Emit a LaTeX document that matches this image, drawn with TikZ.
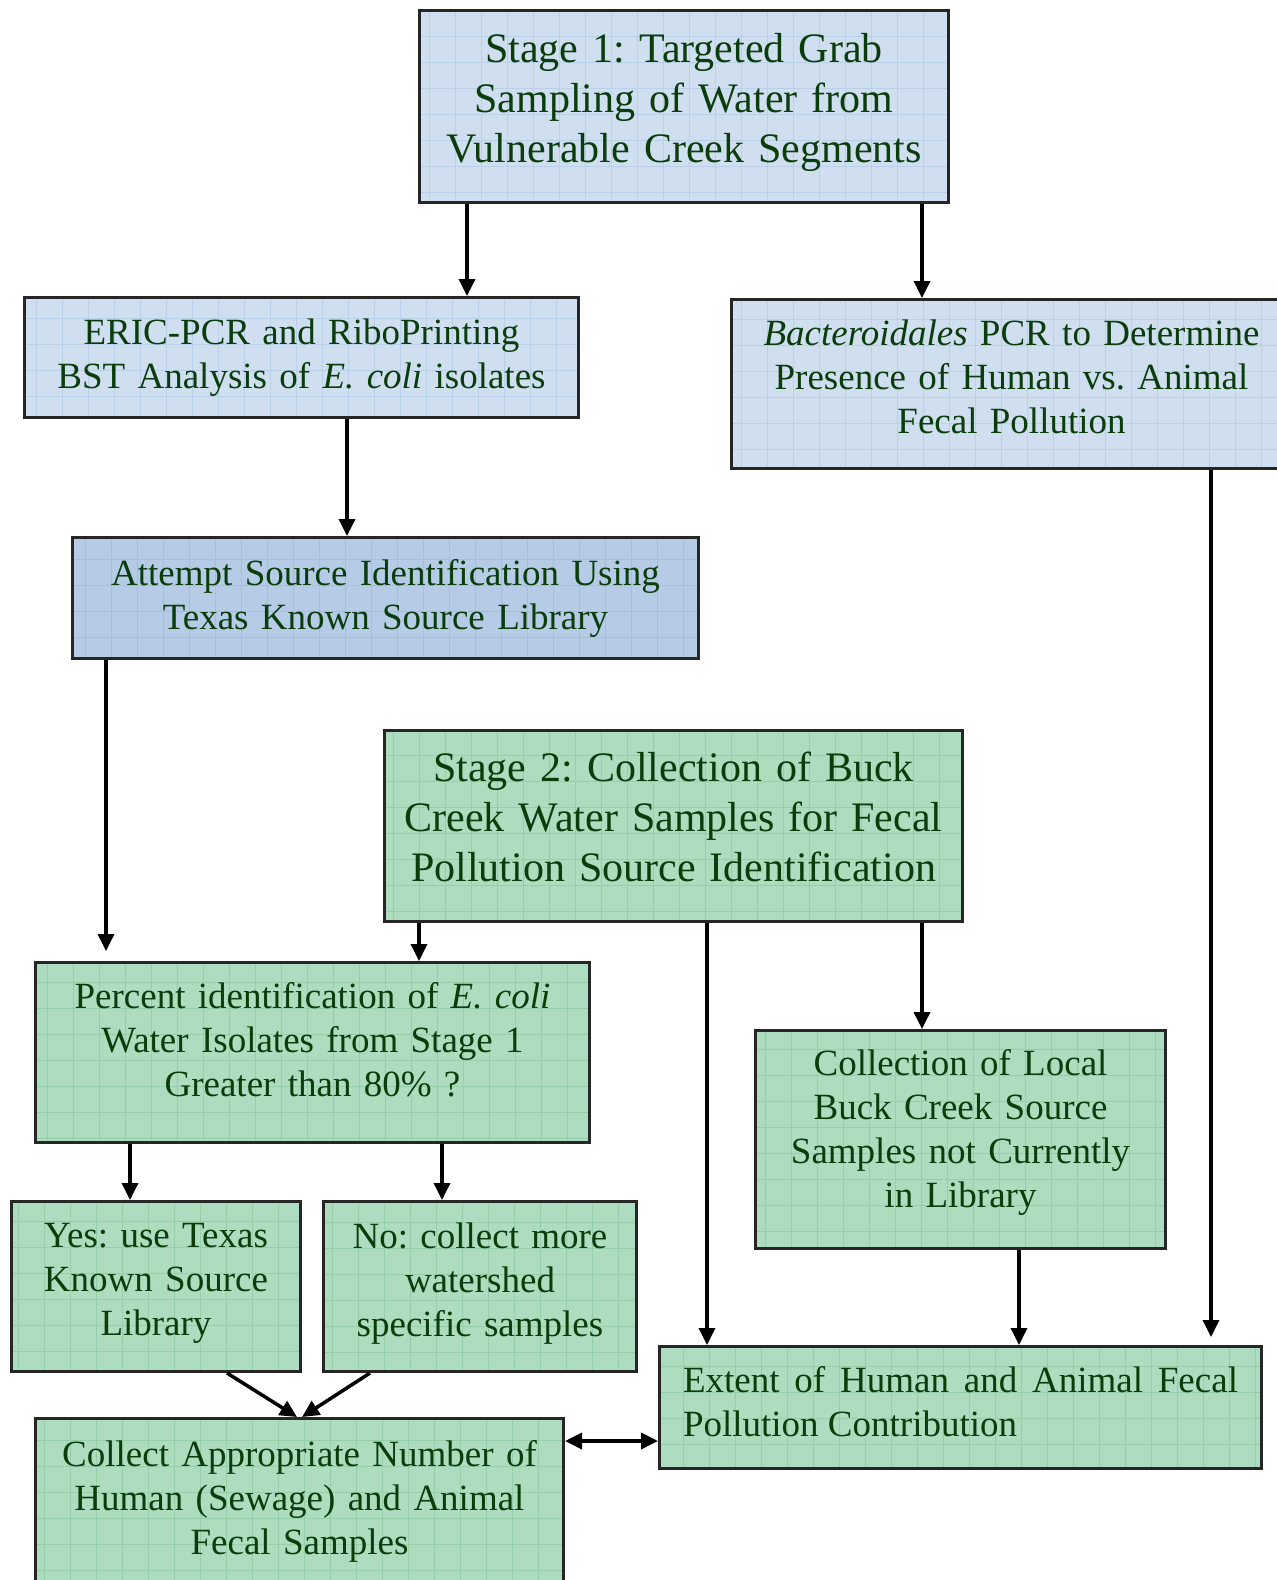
\documentclass[tikz,border=0pt]{standalone}
\usepackage{fontspec}
\setmainfont{Liberation Serif}
\usetikzlibrary{arrows.meta}

\definecolor{txtgreen}{RGB}{10,60,12}
\definecolor{paleblue}{RGB}{208,223,240}
\definecolor{gridblue}{RGB}{186,208,232}
\definecolor{midblue}{RGB}{182,204,230}
\definecolor{gridmidblue}{RGB}{162,190,224}
\definecolor{palegreen}{RGB}{174,220,190}
\definecolor{gridgreen}{RGB}{150,206,170}

% unsichtbare Tiefe, hebt den Text im Kasten an
\newcommand{\dn}[1]{\rule[-#1]{0pt}{#1}}

\tikzset{
  gridded/.style={path picture={\draw[#1,line width=0.7pt] (path picture bounding box.south west) grid[step=26pt] (path picture bounding box.north east);}},
  box/.style={draw=black!85,line width=3pt,anchor=north west,inner sep=0pt,align=center,text=txtgreen,font=\fontsize{37}{44}\selectfont},
  bluebox/.style={box,fill=paleblue,gridded=gridblue},
  darkbluebox/.style={box,fill=midblue,gridded=gridmidblue},
  greenbox/.style={box,fill=palegreen,gridded=gridgreen},
  stagefont/.style={font=\fontsize{42}{50}\selectfont},
  arr/.style={-{Triangle[width=16pt,length=17pt]},line width=3.5pt},
  twoarr/.style={{Triangle[width=16pt,length=17pt]}-{Triangle[width=16pt,length=17pt]},line width=3.5pt}
}

\begin{document}
\frenchspacing
\begin{tikzpicture}[x=1pt,y=-1pt]
    \useasboundingbox (0,0) rectangle (1277,1580);

    % Stage 1
    \node[bluebox,stagefont,minimum width=529pt,minimum height=192pt,text width=510pt] (s1) at (418,9)
        {Stage 1: Targeted Grab\\ Sampling of Water from\\ Vulnerable Creek Segments\dn{17pt}};
    \node[bluebox,minimum width=554pt,minimum height=120pt,text width=530pt] (eric) at (23,296)
        {ERIC-PCR and RiboPrinting\\ BST Analysis of \textit{E. coli} isolates};
    \node[bluebox,minimum width=560pt,minimum height=169pt,text width=540pt] (bact) at (730,298)
        {\textit{Bacteroidales} PCR to Determine\\ Presence of Human vs. Animal\\ Fecal Pollution\dn{14pt}};
    \node[darkbluebox,minimum width=626pt,minimum height=121pt,text width=600pt] (attempt) at (71,536)
        {Attempt Source Identification Using\\ Texas Known Source Library};

    % Stage 2
    \node[greenbox,stagefont,minimum width=578pt,minimum height=191pt,text width=560pt] (s2) at (383,729)
        {Stage 2: Collection of Buck\\ Creek Water Samples for Fecal\\ Pollution Source Identification\dn{18pt}};
    \node[greenbox,minimum width=554pt,minimum height=180pt,text width=530pt] (pct) at (34,961)
        {Percent identification of \textit{E. coli}\\ Water Isolates from Stage 1\\ Greater than 80\%~?\dn{26pt}};
    \node[greenbox,minimum width=410pt,minimum height=218pt,text width=390pt] (local) at (754,1029)
        {Collection of Local\\ Buck Creek Source\\ Samples not Currently\\ in Library\dn{22pt}};
    \node[greenbox,minimum width=289pt,minimum height=170pt,text width=275pt] (yes) at (10,1200)
        {Yes: use Texas\\ Known Source\\ Library\dn{14pt}};
    \node[greenbox,minimum width=313pt,minimum height=170pt,text width=295pt] (no) at (322,1200)
        {No: collect more\\ watershed\\ specific samples\dn{14pt}};
    \node[greenbox,align=justify,minimum width=602pt,minimum height=122pt,text width=555pt] (extent) at (658,1345)
        {Extent of Human and Animal Fecal\linebreak Pollution Contribution\dn{12pt}};
    \node[greenbox,minimum width=528pt,minimum height=202pt,text width=510pt] (collect) at (34,1417)
        {Collect Appropriate Number of\\ Human (Sewage) and Animal\\ Fecal Samples\\ \mbox{}};

    % Verbindungen
    \draw[arr] (s1.south -| 467,0) -- (eric.north -| 467,0);
    \draw[arr] (s1.south -| 922,0) -- (bact.north -| 922,0);
    \draw[arr] (eric.south -| 347,0) -- (attempt.north -| 347,0);
    \draw[arr,shorten >=10pt] (attempt.south -| 106,0) -- (pct.north -| 106,0);
    \draw[arr] (s2.south -| 419,0) -- (pct.north -| 419,0);
    \draw[arr] (s2.south -| 707,0) -- (extent.north -| 707,0);
    \draw[arr] (s2.south -| 922,0) -- (local.north -| 922,0);
    \draw[arr,shorten >=8pt] (bact.south -| 1211,0) -- (extent.north -| 1211,0);
    \draw[arr] (local.south -| 1019,0) -- (extent.north -| 1019,0);
    \draw[arr] (pct.south -| 130,0) -- (yes.north -| 130,0);
    \draw[arr] (pct.south -| 442,0) -- (no.north -| 442,0);
    \draw[arr] (yes.south -| 227,0) -- (collect.north -| 297,0);
    \draw[arr] (no.south -| 370,0) -- (collect.north -| 302,0);
    \draw[twoarr] (collect.east |- 0,1441) -- (extent.west |- 0,1441);
\end{tikzpicture}
\end{document}
